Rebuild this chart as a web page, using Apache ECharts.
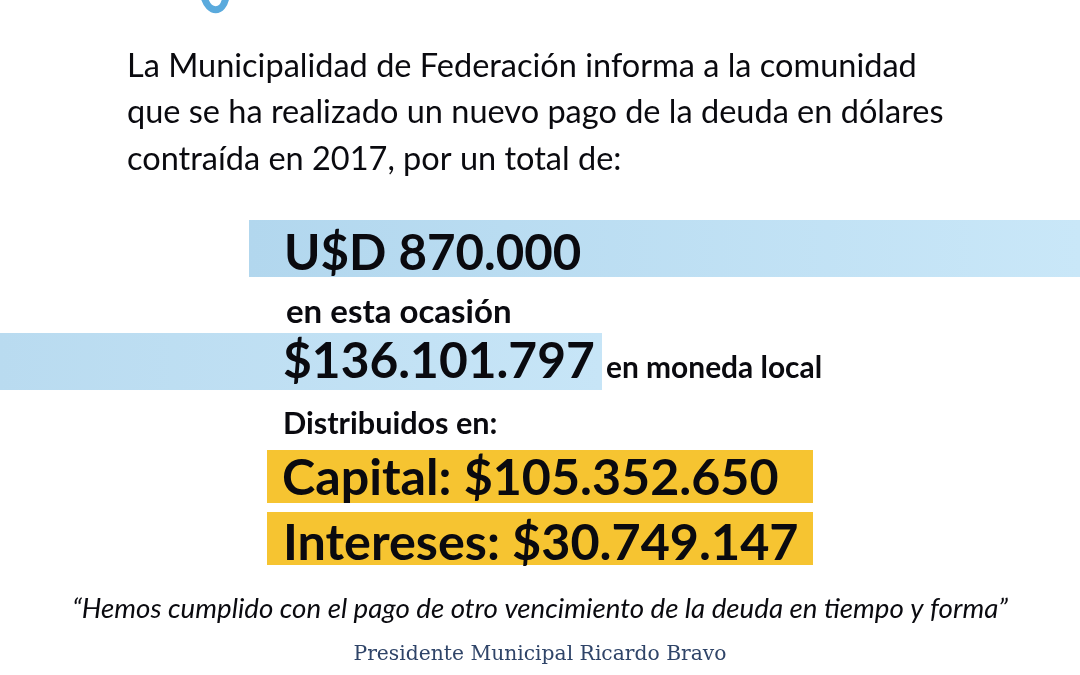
<!DOCTYPE html>
<html>
<head>
<meta charset="utf-8">
<style>
  html, body { margin: 0; padding: 0; background: #fff; }
  #chart { width: 1080px; height: 675px; }
</style>
<script src="https://cdn.jsdelivr.net/npm/echarts@6/dist/echarts.min.js"></script>
</head>
<body>
<div id="chart"></div>
<script>
// textos del comunicado
const introLines = [
  'La Municipalidad de Federación informa a la comunidad',
  'que se ha realizado un nuevo pago de la deuda en dólares',
  'contraída en 2017, por un total de:'
]
const usdLabel = 'U$D 870.000'
const occasionLabel = 'en esta ocasión'
const pesosLabel = '$136.101.797'
const localLabel = 'en moneda local'
const distLabel = 'Distribuidos en:'
const capitalLabel = 'Capital: $105.352.650'
const interestLabel = 'Intereses: $30.749.147'
const quoteLabel = '“Hemos cumplido con el pago de otro vencimiento de la deuda en tiempo y forma”'
const signLabel = 'Presidente Municipal Ricardo Bravo'

// franjas de fondo
const bandStart = [249, 0, 267, 267]
const bandEnd = [1080, 602, 813, 813]
const bandTop = [220, 333, 450, 512]
const bandBottom = [277, 390, 503, 565]
const bandLeftColor = ['#b2d7ee', '#b9dbf0', '#f6c431', '#f6c431']
const bandRightColor = ['#c9e7f8', '#c7e5f7', '#f6c431', '#f6c431']

const bandData = bandStart.map((v, i) => [v, bandEnd[i], bandTop[i], bandBottom[i], i])

const myChart = echarts.init(document.querySelector('#chart'), null, { renderer: 'canvas' })

function txt (text, x, y, size, weight, extra) {
  return {
    type: 'text',
    x: x,
    y: y,
    z: 10,
    style: Object.assign({
      text: text,
      fontFamily: 'Lato',
      fontSize: size,
      fontWeight: weight,
      fill: '#0a0a0f',
      verticalAlign: 'middle'
    }, extra || {})
  }
}

const option = {
  animation: false,
  backgroundColor: '#ffffff',
  grid: { left: 0, right: 0, top: 0, bottom: 0 },
  xAxis: { type: 'value', min: 0, max: 1080, show: false },
  yAxis: { type: 'value', min: 0, max: 675, inverse: true, show: false },
  series: [
    {
      type: 'custom',
      data: bandData,
      silent: true,
      renderItem: function (params, api) {
        const p0 = api.coord([api.value(0), api.value(2)])
        const p1 = api.coord([api.value(1), api.value(3)])
        const i = api.value(4)
        return {
          type: 'rect',
          shape: { x: p0[0], y: p0[1], width: p1[0] - p0[0], height: p1[1] - p0[1] },
          style: {
            fill: new echarts.graphic.LinearGradient(0, 0, 1, 0, [
              { offset: 0, color: bandLeftColor[i] },
              { offset: 1, color: bandRightColor[i] }
            ])
          }
        }
      }
    }
  ],
  graphic: [
    // trozo del logo arriba
    {
      type: 'bezierCurve',
      z: 10,
      shape: { x1: 204, y1: -3, cpx1: 209, cpy1: 14, cpx2: 223, cpy2: 14, x2: 226, y2: -3 },
      style: { fill: 'none', stroke: '#5aaadd', lineWidth: 7 }
    },
    txt(introLines[0], 127, 67, 32.5, 400),
    txt(introLines[1], 127, 113, 32.5, 400),
    txt(introLines[2], 127, 160, 32.5, 400),
    txt(usdLabel, 284, 254.5, 49.2, 700),
    txt(occasionLabel, 286, 312, 33, 700),
    txt(pesosLabel, 283, 361.5, 49.7, 700),
    txt(localLabel, 606, 368, 29.9, 700),
    txt(distLabel, 283, 424, 30.6, 700),
    txt(capitalLabel, 282, 478.5, 50.2, 700),
    txt(interestLabel, 283, 544, 50.3, 700),
    txt(quoteLabel, 540, 609, 27.7, 400, { fontStyle: 'italic', align: 'center' }),
    txt(signLabel, 540, 655, 20.3, 400, { fontFamily: 'DejaVu Serif', fill: '#2f4468', align: 'center' })
  ]
}

myChart.setOption(option)
</script>
</body>
</html>
